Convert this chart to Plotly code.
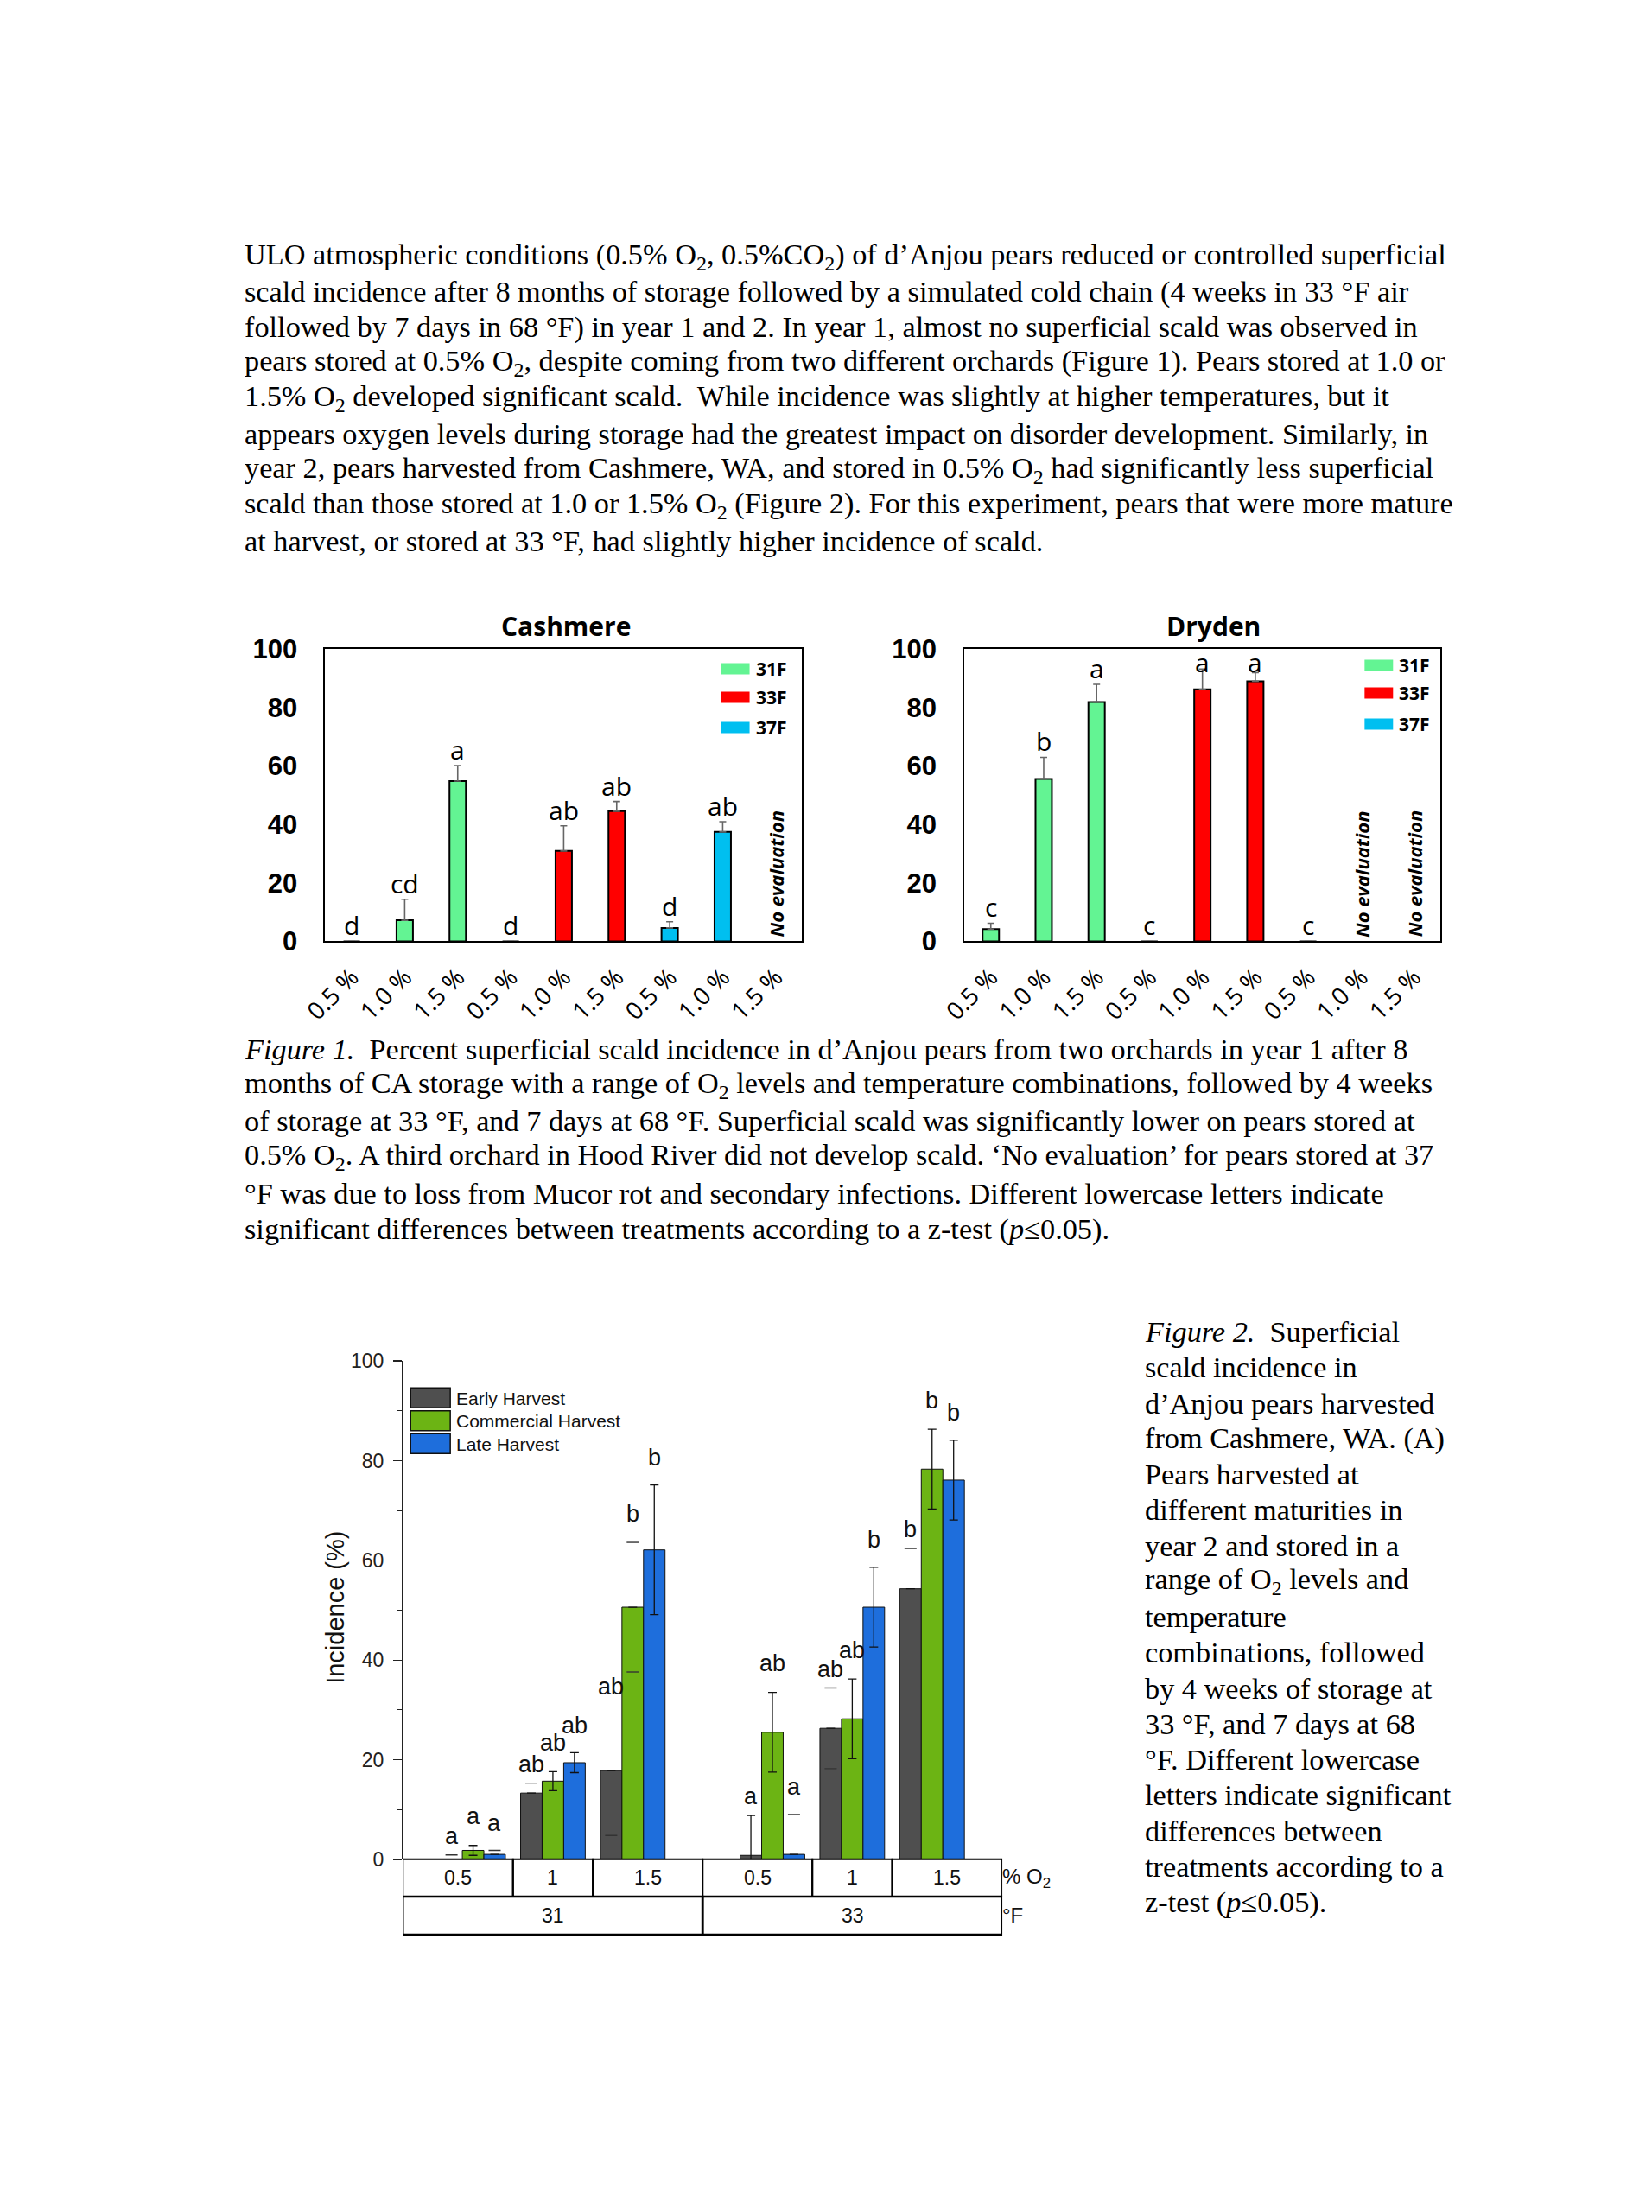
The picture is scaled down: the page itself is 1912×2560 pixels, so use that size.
import plotly.graph_objects as go

# ---------------- data ----------------
# Figure 1 (year 1)
o2_labels_f1 = ["0.5 %", "1.0 %", "1.5 %", "0.5 %", "1.0 %", "1.5 %", "0.5 %", "1.0 %", "1.5 %"]
temps_f1 = ["31F", "33F", "37F"]
cashmere_vals = [0, 7.2, 54.8, 0, 30.9, 44.5, 4.6, 37.4, None]
cashmere_err = [None, 7.2, 5.3, None, 8.6, 3.3, 2.1, 3.5, None]
cashmere_letters = ["d", "cd", "a", "d", "ab", "ab", "d", "ab", ""]
dryden_vals = [4.2, 55.5, 81.8, 0, 86.2, 88.9, 0, None, None]
dryden_err = [2.0, 7.4, 6.1, None, 6.9, 3.0, None, None, None]
dryden_letters = ["c", "b", "a", "c", "a", "a", "c", "", ""]

# Figure 2 (year 2)
o2_labels_f2 = ["0.5", "1", "1.5", "0.5", "1", "1.5"]
temps_f2 = ["31", "33"]
harvests = ["Early Harvest", "Commercial Harvest", "Late Harvest"]
early = [0, 13.3, 17.8, 0.8, 26.3, 54.3]
commercial = [1.8, 15.7, 50.6, 25.5, 28.2, 78.3]
late = [1.0, 19.4, 62.1, 1.0, 50.6, 76.1]
early_sd = [0.9, 2.0, 13.0, 8.0, 8.1, 8.1]
commercial_sd = [1.0, 1.9, 13.0, 8.0, 8.0, 8.0]
late_sd = [0.8, 2.0, 13.0, 8.0, 8.0, 8.0]
early_letters = ["a", "ab", "ab", "a", "ab", "b"]
commercial_letters = ["a", "ab", "b", "ab", "ab", "b"]
late_letters = ["a", "ab", "b", "a", "b", "b"]

# ---------------- text ----------------
para_lines = [
    "ULO atmospheric conditions (0.5% O<sub>2</sub>, 0.5%CO<sub>2</sub>) of d\u2019Anjou pears reduced or controlled superficial",
    "scald incidence after 8 months of storage followed by a simulated cold chain (4 weeks in 33 \u00b0F air",
    "followed by 7 days in 68 \u00b0F) in year 1 and 2. In year 1, almost no superficial scald was observed in",
    "pears stored at 0.5% O<sub>2</sub>, despite coming from two different orchards (Figure 1). Pears stored at 1.0 or",
    "1.5% O<sub>2</sub> developed significant scald.\u00a0 While incidence was slightly at higher temperatures, but it",
    "appears oxygen levels during storage had the greatest impact on disorder development. Similarly, in",
    "year 2, pears harvested from Cashmere, WA, and stored in 0.5% O<sub>2</sub> had significantly less superficial",
    "scald than those stored at 1.0 or 1.5% O<sub>2</sub> (Figure 2). For this experiment, pears that were more mature",
    "at harvest, or stored at 33 \u00b0F, had slightly higher incidence of scald.",
]
cap1_lines = [
    "<i>Figure 1.</i>\u00a0 Percent superficial scald incidence in d\u2019Anjou pears from two orchards in year 1 after 8",
    "months of CA storage with a range of O<sub>2</sub> levels and temperature combinations, followed by 4 weeks",
    "of storage at 33 \u00b0F, and 7 days at 68 \u00b0F. Superficial scald was significantly lower on pears stored at",
    "0.5% O<sub>2</sub>. A third orchard in Hood River did not develop scald. \u2018No evaluation\u2019 for pears stored at 37",
    "\u00b0F was due to loss from Mucor rot and secondary infections. Different lowercase letters indicate",
    "significant differences between treatments according to a z-test (<i>p</i>\u22640.05).",
]
cap2_lines = [
    "<i>Figure 2.</i>\u00a0 Superficial",
    "scald incidence in",
    "d\u2019Anjou pears harvested",
    "from Cashmere, WA. (A)",
    "Pears harvested at",
    "different maturities in",
    "year 2 and stored in a",
    "range of O<sub>2</sub> levels and",
    "temperature",
    "combinations, followed",
    "by 4 weeks of storage at",
    "33 \u00b0F, and 7 days at 68",
    "\u00b0F. Different lowercase",
    "letters indicate significant",
    "differences between",
    "treatments according to a",
    "z-test (<i>p</i>\u22640.05).",
]

# ---------------- helpers ----------------
W, H = 1912, 2560
# page-pixel -> paper mapping (compensates the capture offset/scale seen in calibration)
OX, OY, SX, SY = 26.0, 16.0, 0.986, 0.985
def X(p):
    return (p - OX) / SX / W
def Y(p):
    return 1 - (p - OY) / SY / H

SERIF = "Liberation Serif"
SANS = "Open Sans"
ARIAL = "Liberation Sans"
TXT = 34.3

fig = go.Figure()
ann = []
shapes = []

# ---------------- Figure 1 panels ----------------
f1_colors = ["#63F493", "#FF0000", "#00BFF0"]
panels = [
    dict(name="Cashmere", vals=cashmere_vals, err=cashmere_err, letters=cashmere_letters,
         xa="x", ya="y", xref="x", yref="y", title_x=652, leg_x=832, leg_y=[772, 805, 840]),
    dict(name="Dryden", vals=dryden_vals, err=dryden_err, letters=dryden_letters,
         xa="x2", ya="y2", xref="x2", yref="y2", title_x=1403, leg_x=1578, leg_y=[768, 800, 836]),
]
F1_TOP, F1_BOT = 749, 1087

for pi, p in enumerate(panels):
    for ti, t in enumerate(temps_f1):
        idx = list(range(ti * 3, ti * 3 + 3))
        ys = [p["vals"][i] for i in idx]
        es = [p["err"][i] for i in idx]
        fig.add_bar(
            x=idx, y=ys, width=0.31, offsetgroup=f"f1p{pi}",
            marker=dict(color=f1_colors[ti], line=dict(color="black", width=2)),
            error_y=dict(type="data", symmetric=False, array=es, arrayminus=[0, 0, 0],
                         color="#666666", thickness=1.6, width=4),
            xaxis=p["xa"], yaxis=p["ya"], showlegend=False, name=t,
        )
    for i, (v, e, l) in enumerate(zip(p["vals"], p["err"], p["letters"])):
        if v is None:
            ann.append(dict(x=i, y=23, xref=p["xref"], yref=p["yref"], text="<b><i>No evaluation</i></b>",
                            textangle=-90, showarrow=False, xanchor="center", yanchor="middle",
                            font=dict(family=SANS, size=22, color="black")))
            continue
        top = v + (e or 0)
        ann.append(dict(x=i, y=min(top + 5.5, 95.5), xref=p["xref"], yref=p["yref"], text=l,
                        showarrow=False, xanchor="center", yanchor="middle",
                        font=dict(family=SANS, size=30, color="black")))
    ann.append(dict(x=X(p["title_x"]), y=Y(723), xref="paper", yref="paper", text="<b>%s</b>" % p["name"],
                    showarrow=False, xanchor="center", yanchor="middle",
                    font=dict(family=SANS, size=30, color="black")))
    for ti, t in enumerate(temps_f1):
        cy = p["leg_y"][ti]
        shapes.append(dict(type="rect", xref="paper", yref="paper",
                           x0=X(p["leg_x"]), x1=X(p["leg_x"] + 33), y0=Y(cy + 6.5), y1=Y(cy - 6.5),
                           fillcolor=f1_colors[ti], line=dict(width=0)))
        ann.append(dict(x=X(p["leg_x"] + 38), y=Y(cy), xref="paper", yref="paper", text="<b>%s</b>" % t,
                        showarrow=False, xanchor="left", yanchor="middle",
                        font=dict(family=SANS, size=21, color="black")))

f1_xaxis = dict(range=[-0.5, 8.5], tickmode="array", tickvals=list(range(9)), ticktext=o2_labels_f1,
                tickangle=-45, tickfont=dict(family=SANS, size=28, color="black"),
                showline=True, mirror=True, linecolor="black", linewidth=2, showgrid=False,
                zeroline=False, ticks="", ticklabelstandoff=12, fixedrange=True)
f1_yaxis = dict(range=[0, 100], tickmode="array", tickvals=[0, 20, 40, 60, 80, 100],
                tickfont=dict(family=ARIAL, size=31, color="black", weight="bold"),
                showline=True, mirror=True, linecolor="black", linewidth=2, showgrid=False,
                zeroline=False, ticks="", ticklabelstandoff=24)

# ---------------- Figure 2 ----------------
f2_pos = [0, 1, 2, 3.75, 4.75, 5.75]
f2_colors = ["#4F4F4F", "#6CB414", "#1E6EDC"]
BW = 0.27
LETTER_PAD = [3.8, 5.8, 5.5]
series = [
    (harvests[0], early, early_sd, early_letters, ["hi", "hi", "lo", "line", "both", "hi"]),
    (harvests[1], commercial, commercial_sd, commercial_letters, ["line", "line", "both", "line", "line", "line"]),
    (harvests[2], late, late_sd, late_letters, ["hi", "line", "line", "hi", "line", "line"]),
]
for si, (nm, vals, sds, lets, modes) in enumerate(series):
    line_err = [s if m == "line" else None for s, m in zip(sds, modes)]
    fig.add_bar(
        x=f2_pos, y=vals, name=nm, offsetgroup=f"h{si}",
        marker=dict(color=f2_colors[si], line=dict(color="#111111", width=1)),
        error_y=dict(type="data", array=line_err, color="#111111", thickness=1.3, width=5),
        xaxis="x3", yaxis="y3", showlegend=False,
    )
    off = (si - 1) * BW
    cx, cy = [], []
    for p0, v, s, m in zip(f2_pos, vals, sds, modes):
        if m in ("hi", "both"):
            cx.append(p0 + off); cy.append(v + s)
        if m in ("lo", "both"):
            cx.append(p0 + off); cy.append(v - s)
    fig.add_scatter(x=cx, y=cy, mode="markers", xaxis="x3", yaxis="y3", showlegend=False,
                    marker=dict(symbol="line-ew", size=10, line=dict(color="#333333", width=1.4)),
                    hoverinfo="skip")
    for p0, v, s, l in zip(f2_pos, vals, sds, lets):
        ann.append(dict(x=p0 + off, y=v + s + LETTER_PAD[si], xref="x3", yref="y3", text=l, showarrow=False,
                        xanchor="center", yanchor="middle",
                        font=dict(family=ARIAL, size=27, color="#111111")))

for si, nm in enumerate(harvests):
    y0 = 1603 + si * 26.5
    shapes.append(dict(type="rect", xref="paper", yref="paper", x0=X(472), x1=X(518),
                       y0=Y(y0 + 23), y1=Y(y0), fillcolor=f2_colors[si], line=dict(color="#111111", width=1.5)))
    ann.append(dict(x=X(523), y=Y(y0 + 12), xref="paper", yref="paper", text=nm, showarrow=False,
                    xanchor="left", yanchor="middle", font=dict(family=ARIAL, size=21, color="#111111")))

bounds = [f2_pos[0] - 0.88] + [(a + b) / 2 for a, b in zip(f2_pos[:-1], f2_pos[1:])] + [f2_pos[-1] + 0.88]
R1T, R1B, R2B = 2148, 2191, 2235
for i, lab in enumerate(o2_labels_f2):
    shapes.append(dict(type="rect", xref="x3", yref="paper", x0=bounds[i], x1=bounds[i + 1],
                       y0=Y(R1B), y1=Y(R1T), line=dict(color="black", width=2)))
    ann.append(dict(x=(bounds[i] + bounds[i + 1]) / 2, y=Y((R1T + R1B) / 2), xref="x3", yref="paper",
                    text=lab, showarrow=False, xanchor="center", yanchor="middle",
                    font=dict(family=ARIAL, size=23, color="#111111")))
for ti, lab in enumerate(temps_f2):
    xl, xr = bounds[ti * 3], bounds[ti * 3 + 3]
    shapes.append(dict(type="rect", xref="x3", yref="paper", x0=xl, x1=xr,
                       y0=Y(R2B), y1=Y(R1B), line=dict(color="black", width=2.5)))
    ann.append(dict(x=(xl + xr) / 2, y=Y((R1B + R2B) / 2), xref="x3", yref="paper",
                    text=lab, showarrow=False, xanchor="center", yanchor="middle",
                    font=dict(family=ARIAL, size=23, color="#111111")))
ann.append(dict(x=X(1156), y=Y(2170), xref="paper", yref="paper", text="% O<sub>2</sub>", showarrow=False,
                xanchor="left", yanchor="middle", font=dict(family=ARIAL, size=24, color="#111111")))
ann.append(dict(x=X(1156), y=Y(2213), xref="paper", yref="paper", text="\u00b0F", showarrow=False,
                xanchor="left", yanchor="middle", font=dict(family=ARIAL, size=24, color="#111111")))
ann.append(dict(x=X(385), y=Y(1857), xref="paper", yref="paper", text="Incidence (%)", showarrow=False,
                textangle=-90, xanchor="center", yanchor="middle",
                font=dict(family=ARIAL, size=29, color="#111111")))

# ---------------- text blocks ----------------
for i, t in enumerate(para_lines):
    ann.append(dict(x=X(277), y=Y(295 + 41.1 * i), xref="paper", yref="paper", text=t, showarrow=False,
                    xanchor="left", yanchor="middle", font=dict(family=SERIF, size=TXT, color="black")))
for i, t in enumerate(cap1_lines):
    ann.append(dict(x=X(277), y=Y(1211 + 41.7 * i), xref="paper", yref="paper", text=t, showarrow=False,
                    xanchor="left", yanchor="middle", font=dict(family=SERIF, size=TXT, color="black")))
for i, t in enumerate(cap2_lines):
    ann.append(dict(x=X(1321), y=Y(1538 + 41.2 * i), xref="paper", yref="paper", text=t, showarrow=False,
                    xanchor="left", yanchor="middle", font=dict(family=SERIF, size=TXT, color="black")))

fig.update_layout(
    width=W, height=H, margin=dict(l=0, r=0, t=0, b=0, pad=0),
    paper_bgcolor="white", plot_bgcolor="white",
    barmode="group", bargap=0.19, bargroupgap=0,
    xaxis=dict(domain=[X(373), X(926)], anchor="y", **f1_xaxis),
    yaxis=dict(domain=[Y(F1_BOT), Y(F1_TOP)], anchor="x", **f1_yaxis),
    xaxis2=dict(domain=[X(1114), X(1666)], anchor="y2", **f1_xaxis),
    yaxis2=dict(domain=[Y(F1_BOT), Y(F1_TOP)], anchor="x2", **f1_yaxis),
    xaxis3=dict(domain=[X(463), X(1158)], anchor="y3", range=[bounds[0], bounds[-1]], visible=False,
                fixedrange=True),
    yaxis3=dict(domain=[Y(2148), Y(1572)], anchor="x3", range=[0, 100], tickmode="array",
                tickvals=[0, 20, 40, 60, 80, 100], ticks="outside", ticklen=10, tickwidth=1.3,
                tickcolor="#222222", showline=True, linecolor="#222222", linewidth=1.3,
                showgrid=False, zeroline=False, ticklabelstandoff=6,
                tickfont=dict(family=ARIAL, size=23, color="#222222"),
                minor=dict(tickvals=[10, 30, 50, 70, 90], ticks="outside", ticklen=5, tickwidth=1.3,
                           tickcolor="#222222")),
    annotations=ann, shapes=shapes,
    font=dict(family=ARIAL),
)

fig.write_html(
    "out.html",
    config={"displayModeBar": False, "staticPlot": True},
    post_script="document.documentElement.style.margin='0px';document.body.style.margin='0px';"
                "document.body.style.padding='0px';document.documentElement.style.overflow='hidden';",
)
